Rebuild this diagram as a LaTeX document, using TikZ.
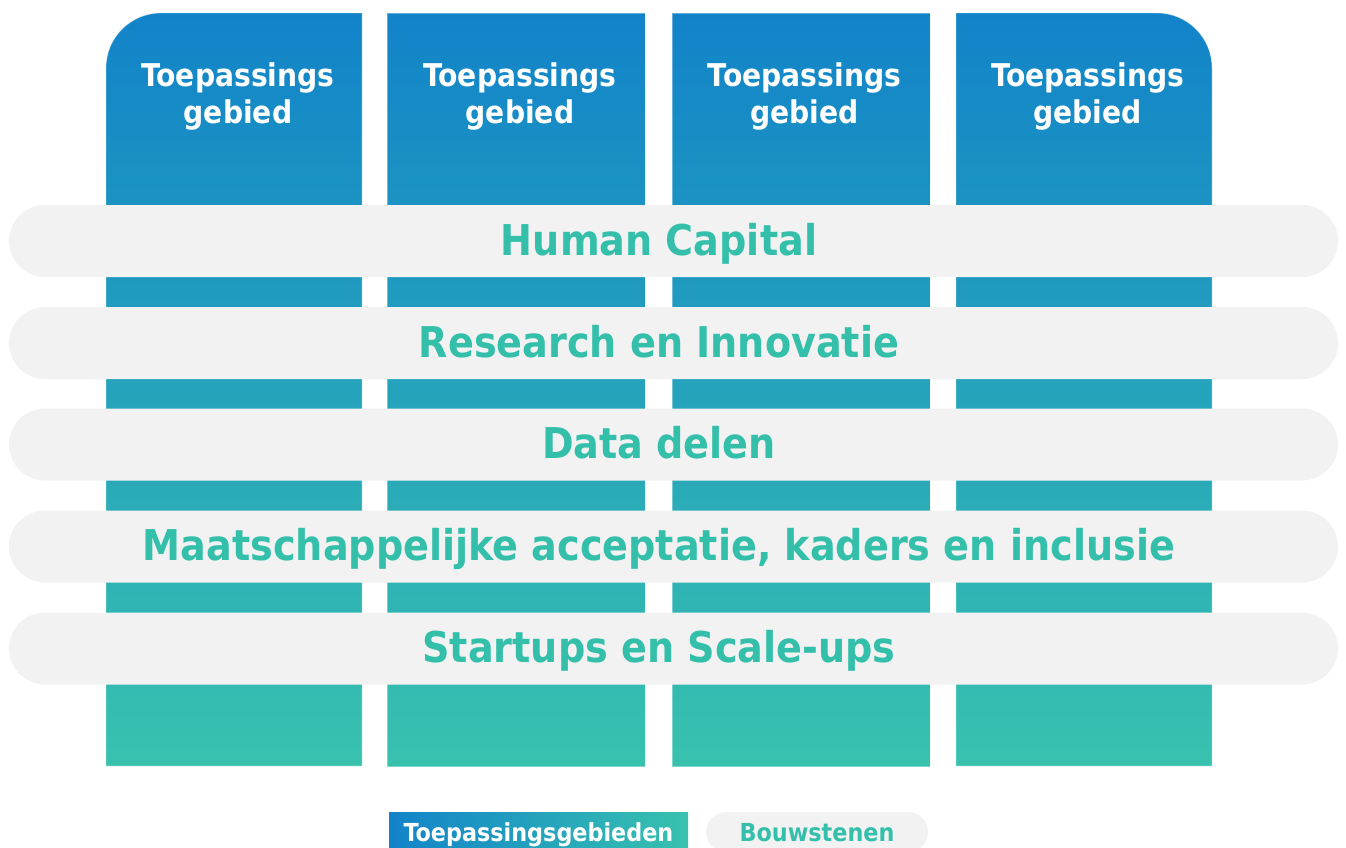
\documentclass[tikz,border=0pt]{standalone}
\usepackage{fontspec}
\setmainfont{DejaVu Sans Condensed}[BoldFont={DejaVu Sans Condensed Bold}]
\definecolor{colTop}{RGB}{18,131,201}
\definecolor{colBot}{RGB}{56,194,174}
\definecolor{barGray}{RGB}{242,242,242}
\definecolor{tealText}{RGB}{52,191,170}
\tikzset{
  colshade/.style={top color=colTop, bottom color=colBot, draw=white, draw opacity=0.35, line width=0.6pt},
  coltext/.style={text=white, font=\bfseries\fontsize{23.5pt}{27.75pt}\selectfont, align=center, inner sep=0pt, anchor=north},
  bar/.style={fill=barGray, rounded corners=27pt, minimum width=996.75pt, minimum height=54pt, inner sep=0pt},
  bartext/.style={text=tealText, font=\bfseries\fontsize{31.8pt}{36pt}\selectfont, text height=23pt, text depth=0pt, inner sep=0pt},
  legblue/.style={left color=colTop, right color=colBot, minimum width=224.25pt, minimum height=30pt, inner sep=0pt,
    text=white, font=\bfseries\fontsize{18.6pt}{22pt}\selectfont, text height=13.6pt, text depth=0pt},
  leggray/.style={fill=barGray, rounded corners=15pt, minimum width=166.5pt, minimum height=30pt, inner sep=0pt,
    text=tealText, font=\bfseries\fontsize{18.6pt}{22pt}\selectfont, text height=13.6pt, text depth=0pt}
}
\begin{document}
\begin{tikzpicture}[x=0.75pt, y=-0.75pt]
\useasboundingbox (0,0) rectangle (1346,847);
\clip (0,0) rectangle (1346,847);

% application-area columns
\shade[colshade] (106,766) -- (106,68) arc[start angle=180, end angle=90, radius=41.25pt] -- (362,13) -- (362,766) -- cycle;
\shade[colshade] (387,766) rectangle (645,13);
\shade[colshade] (672,766) rectangle (930,13);
\shade[colshade] (956,766) -- (956,13) -- (1157,13) arc[start angle=90, end angle=0, radius=41.25pt] -- (1212,766) -- cycle;

\node[coltext] (t1) at (238,62) {Toepassings\\gebied};
\node[coltext] (t2) at (520,62) {Toepassings\\gebied};
\node[coltext] (t3) at (804.5,62) {Toepassings\\gebied};
\node[coltext] (t4) at (1087.5,62) {Toepassings\\gebied};

% building-block bars
\node[bar] (b1) at (673.5,241) {};
\node[bar] (b2) at (673.5,343) {};
\node[bar] (b3) at (673.5,444.5) {};
\node[bar] (b4) at (673.5,546.5) {};
\node[bar] (b5) at (673.5,648.5) {};

\node[bartext] (l1) at (659,240) {Human Capital};
\node[bartext] (l2) at (659,342) {Research en Innovatie};
\node[bartext] (l3) at (659,443.5) {Data delen};
\node[bartext] (l4) at (659,545.5) {Maatschappelijke acceptatie, kaders en inclusie};
\node[bartext] (l5) at (659,647.5) {Startups en Scale-ups};

% legend
\node[legblue] (lg1) at (538.5,832) {Toepassingsgebieden};
\node[leggray] (lg2) at (817,832) {Bouwstenen};
\end{tikzpicture}
\end{document}
